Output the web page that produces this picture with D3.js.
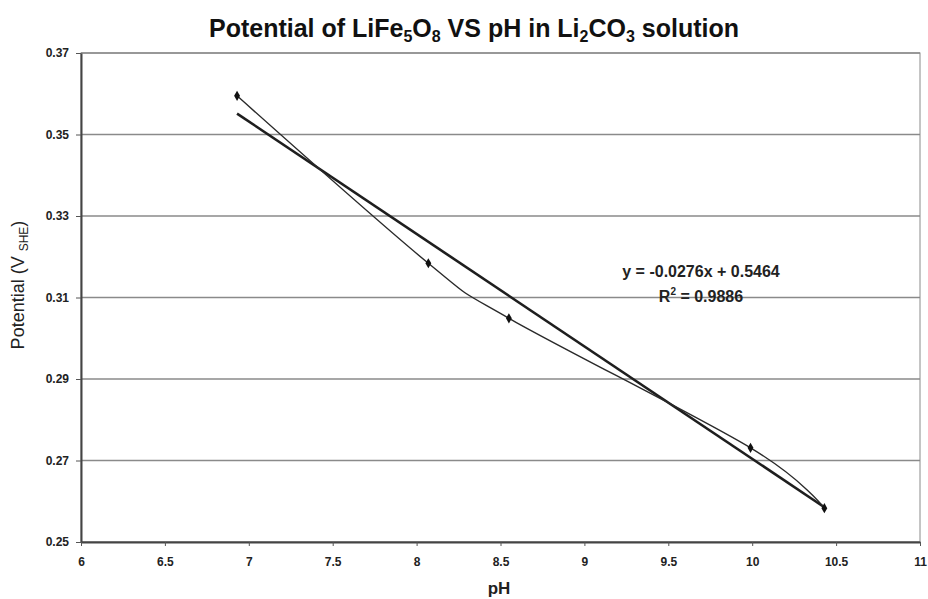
<!DOCTYPE html>
<html>
<head>
<meta charset="utf-8">
<script src="https://cdn.jsdelivr.net/npm/d3@7"></script>
<style>
  body { margin: 0; background: #fff; }
  svg { font-family: Arial, "Liberation Sans", sans-serif; }
</style>
</head>
<body>
<div id="chart"></div>
<script>
// measured points (pH, potential vs SHE)
var ph = [6.93, 8.07, 8.55, 9.99, 10.43];
var potential = [0.3595, 0.3184, 0.3049, 0.2731, 0.2583];
// linear trendline from the picture
var slope = -0.0276, intercept = 0.5464;
var xTicks = [6, 6.5, 7, 7.5, 8, 8.5, 9, 9.5, 10, 10.5, 11];
var yTicks = [0.25, 0.27, 0.29, 0.31, 0.33, 0.35, 0.37];

var margin = {top: 53, right: 8, bottom: 57, left: 81},
    width = 928 - margin.left - margin.right,
    height = 599 - margin.top - margin.bottom;

var root = d3.select("#chart")
    .append("svg")
    .attr("width", 928)
    .attr("height", 599);

var svg = root.append("g")
    .attr("transform", "translate(" + margin.left + "," + margin.top + ")");

var x = d3.scaleLinear().domain([6, 11]).range([0, width]);
var y = d3.scaleLinear().domain([0.25, 0.37]).range([height, 0]);

// gridlines
svg.append("g")
    .selectAll("line")
    .data(yTicks)
    .join("line")
    .attr("x1", 0)
    .attr("x2", width)
    .attr("y1", d => y(d))
    .attr("y2", d => y(d))
    .attr("stroke", "#8a8a8a")
    .attr("stroke-width", 1.5);

// plot border
svg.append("rect")
    .attr("width", width)
    .attr("height", height)
    .attr("fill", "none")
    .attr("stroke", "#8a8a8a")
    .attr("stroke-width", 1);

// axes
var yAxis = svg.append("g")
    .call(d3.axisLeft(y).tickValues(yTicks).tickFormat(d3.format(".2f")).tickSize(5).tickSizeOuter(0));
var xAxis = svg.append("g")
    .attr("transform", "translate(0," + height + ")")
    .call(d3.axisBottom(x).tickValues(xTicks).tickFormat(d => d).tickSize(4).tickSizeOuter(0));

[xAxis, yAxis].forEach(function (a) {
    a.select(".domain").attr("stroke", "#444").attr("stroke-width", 2);
    a.selectAll(".tick line").attr("stroke", "#555");
    a.selectAll("text")
        .style("font-size", "12px")
        .style("font-weight", "bold")
        .attr("fill", "#222");
});
yAxis.selectAll("text").attr("x", -12);
xAxis.selectAll("text").attr("y", 15);

// trendline
var trend = [d3.min(ph), d3.max(ph)];
svg.append("line")
    .attr("x1", x(trend[0]))
    .attr("y1", y(slope * trend[0] + intercept))
    .attr("x2", x(trend[1]))
    .attr("y2", y(slope * trend[1] + intercept))
    .attr("stroke", "#1e1e1e")
    .attr("stroke-width", 2.6);

// smoothed data line
var pts = ph.map((d, i) => [d, potential[i]]);
svg.append("path")
    .datum(pts)
    .attr("d", d3.line().x(d => x(d[0])).y(d => y(d[1])).curve(d3.curveCatmullRom.alpha(0)))
    .attr("fill", "none")
    .attr("stroke", "#2a2a2a")
    .attr("stroke-width", 1.4);

// diamond markers
svg.selectAll(".pt")
    .data(pts)
    .join("path")
    .attr("class", "pt")
    .attr("transform", d => "translate(" + x(d[0]) + "," + y(d[1]) + ")")
    .attr("d", d3.symbol(d3.symbolDiamond, 30))
    .attr("fill", "#111");

// equation
var eqX = 701;
root.append("text")
    .attr("x", eqX)
    .attr("y", 277)
    .attr("text-anchor", "middle")
    .style("font-size", "16px")
    .style("font-weight", "bold")
    .attr("fill", "#222")
    .text("y = -0.0276x + 0.5464");
var r2 = root.append("text")
    .attr("x", eqX)
    .attr("y", 302)
    .attr("text-anchor", "middle")
    .style("font-size", "16px")
    .style("font-weight", "bold")
    .attr("fill", "#222");
r2.append("tspan").text("R");
r2.append("tspan").attr("dy", -7).style("font-size", "10px").text("2");
r2.append("tspan").attr("dy", 7).text(" = 0.9886");

// title
var title = root.append("text")
    .attr("x", 474)
    .attr("y", 37)
    .attr("text-anchor", "middle")
    .style("font-size", "25px")
    .style("font-weight", "bold")
    .attr("fill", "#111");
[["Potential of LiFe", 0], ["5", 1], ["O", 0], ["8", 1], [" VS pH in Li", 0], ["2", 1], ["CO", 0], ["3", 1], [" solution", 0]]
    .forEach(function (p, i, arr) {
        var prev = i > 0 ? arr[i - 1][1] : 0;
        var dy = p[1] && !prev ? 5 : (!p[1] && prev ? -5 : 0);
        title.append("tspan")
            .attr("dy", dy)
            .style("font-size", p[1] ? "16px" : "25px")
            .text(p[0]);
    });

// axis titles
root.append("text")
    .attr("x", 499)
    .attr("y", 594)
    .attr("text-anchor", "middle")
    .style("font-size", "17px")
    .style("font-weight", "bold")
    .attr("fill", "#222")
    .text("pH");

var yl = root.append("text")
    .attr("transform", "translate(24,285) rotate(-90)")
    .attr("text-anchor", "middle")
    .style("font-size", "18px")
    .attr("fill", "#222");
yl.append("tspan").text("Potential (V ");
yl.append("tspan").attr("dy", 4).style("font-size", "12px").text("SHE");
yl.append("tspan").attr("dy", -4).text(")");
</script>
</body>
</html>
